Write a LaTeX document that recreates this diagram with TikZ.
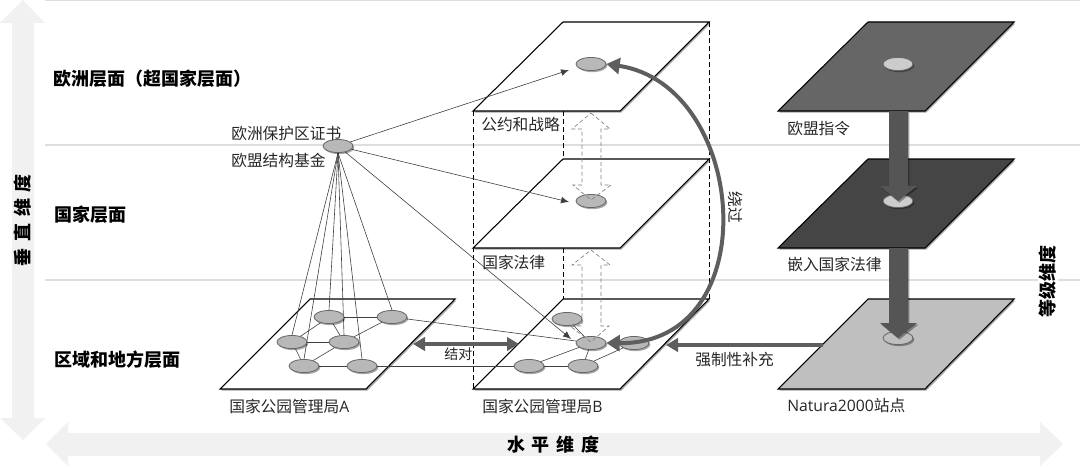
\documentclass[tikz,border=0pt]{standalone}
\usepackage{fontspec}
\setmainfont{Noto Sans CJK SC}
\newfontfamily\latn{Open Sans}
\usepackage{tikz}
\usetikzlibrary{arrows.meta,shadows,shapes.geometric}
\pgfdeclarelayer{planes}
\pgfdeclarelayer{links}
\pgfsetlayers{planes,links,main}
\definecolor{bandgray}{HTML}{F1F1F1}
\definecolor{rulegray}{HTML}{DEDEDE}
\definecolor{arrowgray}{HTML}{5E5E5E}
\definecolor{flowgray}{HTML}{555555}
\tikzset{
  softshadow/.style={drop shadow={shadow xshift=1pt,shadow yshift=-1.2pt,opacity=.35,fill=black}},
  plane/.style={draw=black,line width=.8pt,fill=white,softshadow},
  site/.style={draw=black!60,line width=.6pt,ellipse,minimum width=22.5pt,minimum height=9.8pt,inner sep=0pt,fill=black!28,softshadow},
  lightsite/.style={site,fill=black!20},
  label/.style={anchor=west,inner sep=0pt,font=\fontsize{11.8}{12}\selectfont,text=black!85},
  level/.style={anchor=west,inner sep=0pt,font=\fontsize{13.5}{14}\selectfont\bfseries},
  axis/.style={inner sep=0pt,font=\fontsize{13.5}{14}\selectfont\bfseries},
  link/.style={draw=black!75,line width=.45pt},
  hint/.style={link,-{Latex[length=6pt,width=5pt]}},
  bar/.style={draw=arrowgray,line width=2.4pt,-{Triangle[length=9pt,width=10pt]}},
  dashedup/.style={draw=black!50,line width=.5pt,dash pattern=on 3pt off 2pt},
  guide/.style={draw=black,line width=.55pt,dash pattern=on 3.5pt off 2.5pt},
  thick arrow/.style={fill=flowgray,draw=none,softshadow}
}
\begin{document}
\begin{tikzpicture}[x=.75pt,y=-.75pt]
  \useasboundingbox (0,0) rectangle (1080,467);
  % level rules and the two big axes
  \begin{pgfonlayer}{planes}
  \draw[rulegray,line width=.8pt] (45,0.5) -- (1080,0.5);
  \draw[rulegray,line width=.8pt] (45,145) -- (1080,145);
  \draw[rulegray,line width=.8pt] (45,280) -- (1080,280);
  \fill[bandgray] (23,0) -- (45,23) -- (34,23) -- (34,418) -- (45,418) -- (23,440)
    -- (0,418) -- (12,418) -- (12,23) -- (0,23) -- cycle;
  \fill[bandgray] (46,444) -- (68,422) -- (68,433) -- (1040,433) -- (1040,422)
    -- (1063,444) -- (1040,466) -- (1040,456) -- (68,456) -- (68,466) -- cycle;
  % guides between the middle planes
  \draw[guide] (473,111) -- (473,389);
  \draw[guide] (563,111) -- (563,159);
  \draw[guide] (563,248) -- (563,299);
  \draw[guide] (709,22) -- (709,299);
  % planes
  \draw[plane] (310,299) -- (455,299) -- (366,389) -- (220,389) -- cycle;
  \draw[plane] (563,22) -- (709,22) -- (620,111) -- (473,111) -- cycle;
  \draw[plane] (563,159) -- (709,159) -- (620,248) -- (473,248) -- cycle;
  \draw[plane] (563,299) -- (709,299) -- (620,389) -- (473,389) -- cycle;
  \draw[plane,fill=black!60] (868,22) -- (1014,22) -- (925,111) -- (778,111) -- cycle;
  \draw[plane,fill=black!73] (868,159) -- (1014,159) -- (925,248) -- (778,248) -- cycle;
  \draw[plane,fill=black!25] (868,299) -- (1014,299) -- (925,389) -- (778,389) -- cycle;
  \end{pgfonlayer}
  % instantiate nodes
  \node[site] (cert) at (338,146) {};
  \node[site] (a1) at (329,317) {};
  \node[site] (a2) at (392,317) {};
  \node[site] (a3) at (292,342) {};
  \node[site] (a4) at (344,342) {};
  \node[site] (a5) at (304,366) {};
  \node[site] (a6) at (362,366) {};
  \node[site] (b1) at (567,319) {};
  \node[site] (b2) at (591,343) {};
  \node[site] (b3) at (634,343) {};
  \node[site] (b4) at (529,366) {};
  \node[site] (b5) at (583,366) {};
  \node[site] (eu) at (591,64) {};
  \node[site] (nat) at (591,201) {};
  \node[lightsite] (rtop) at (898,64) {};
  \node[lightsite] (rmid) at (898,201) {};
  \node[site,fill=black!25] (rlow) at (898,338) {};
  \coordinate (pairL) at (413,344);
  \coordinate (pairR) at (519,344);
  \coordinate (suppS) at (823,345);
  \coordinate (suppE) at (666,345);
  \coordinate (hitEu) at (569,70);
  \coordinate (hitNat) at (569,202);
  \coordinate (hitB) at (571,339);
  % links
  \begin{pgfonlayer}{links}
  \draw[link] (cert.south) -- (a3.north);
  \draw[link] (cert.south) -- (a1.north);
  \draw[link] (cert.south) -- (a4.north);
  \draw[link] (cert.south) -- (a5.north);
  \draw[link] (cert.south) -- (a6.north);
  \draw[link] (cert.south) -- (a2.north);
  \draw[link] (a1) -- (a2);
  \draw[link] (a1) -- (a3);
  \draw[link] (a1) -- (a4);
  \draw[link] (a3) -- (a4);
  \draw[link] (a3) -- (a5);
  \draw[link] (a4) -- (a5);
  \draw[link] (a4) -- (a2);
  \draw[link] (a5) -- (a6);
  \draw[link] (a2) -- (b2);
  \draw[link] (a6) -- (b4);
  \draw[link] (b1) -- (b2);
  \draw[link] (b4) -- (b2);
  \draw[link] (b4) -- (b5);
  \draw[link] (b5) -- (b2);
  \draw[link] (b5) -- (b3);
  \draw[hint] (cert) -- (hitEu);
  \draw[hint] (cert) -- (hitNat);
  \draw[hint] (cert) -- (hitB);
  \end{pgfonlayer}
  % dashed up and down arrows
  \draw[dashedup] (591,113) -- (610,129) -- (601,129) -- (601,185) -- (611,185) -- (591,200)
    -- (573,185) -- (582,185) -- (582,129) -- (572,129) -- cycle;
  \draw[dashedup] (591,250) -- (610,265) -- (601,265) -- (601,326) -- (609,326) -- (591,342)
    -- (570,326) -- (582,326) -- (582,265) -- (572,265) -- cycle;
  % right hand flow
  \path[thick arrow] (889,111) -- (908,111) -- (908,186) -- (917,186) -- (898,201)
    -- (880,186) -- (889,186) -- cycle;
  \path[thick arrow] (889,248) -- (908,248) -- (908,323) -- (917,323) -- (898,338)
    -- (880,323) -- (889,323) -- cycle;
  % bars
  \draw[bar,{Triangle[length=9pt,width=10pt]}-{Triangle[length=9pt,width=10pt]}] (pairL) -- (pairR);
  \draw[bar] (suppS) -- (suppE);
  \draw[bar,line width=3pt,{Triangle[length=10pt,width=12pt]}-{Triangle[length=10pt,width=12pt]}]
    (b2.east) .. controls (768,345) and (748,85) .. (eu.east);
  % labels
  \node[level] (lvlEU) at (53,79) {欧洲层面（超国家层面）};
  \node[level] (lvlNat) at (54,215) {国家层面};
  \node[level] (lvlReg) at (54,360) {区域和地方层面};
  \node[label] (certA) at (231,134) {欧洲保护区证书};
  \node[label] (certB) at (231,160) {欧盟结构基金};
  \node[label] (labConv) at (481,124) {公约和战略};
  \node[label] (labLaw) at (482,262) {国家法律};
  \node[label] (labParkA) at (229,406) {国家公园管理局{\latn A}};
  \node[label] (labParkB) at (482,406) {国家公园管理局{\latn B}};
  \node[label] (labDir) at (787,129) {欧盟指令};
  \node[label] (labEmb) at (787,264) {嵌入国家法律};
  \node[label] (labNat) at (787,405) {{\latn Natura2000}站点};
  \node[label,font=\fontsize{10.5}{12}\selectfont] (labPair) at (444,354) {结对};
  \node[label] (labSupp) at (695,360) {强制性补充};
  \node[label,anchor=center,rotate=-90] (labBy) at (735,207) {绕过};
  \node[axis,rotate=90] (axV) at (23,220) {垂\hspace{5pt}直\hspace{5pt}维\hspace{5pt}度};
  \node[axis] (axH) at (553,445) {水\hspace{5pt}平\hspace{5pt}维\hspace{5pt}度};
  \node[axis,rotate=90,fill=white,inner sep=1pt] (axR) at (1048,281) {等级维度};
\end{tikzpicture}
\end{document}
